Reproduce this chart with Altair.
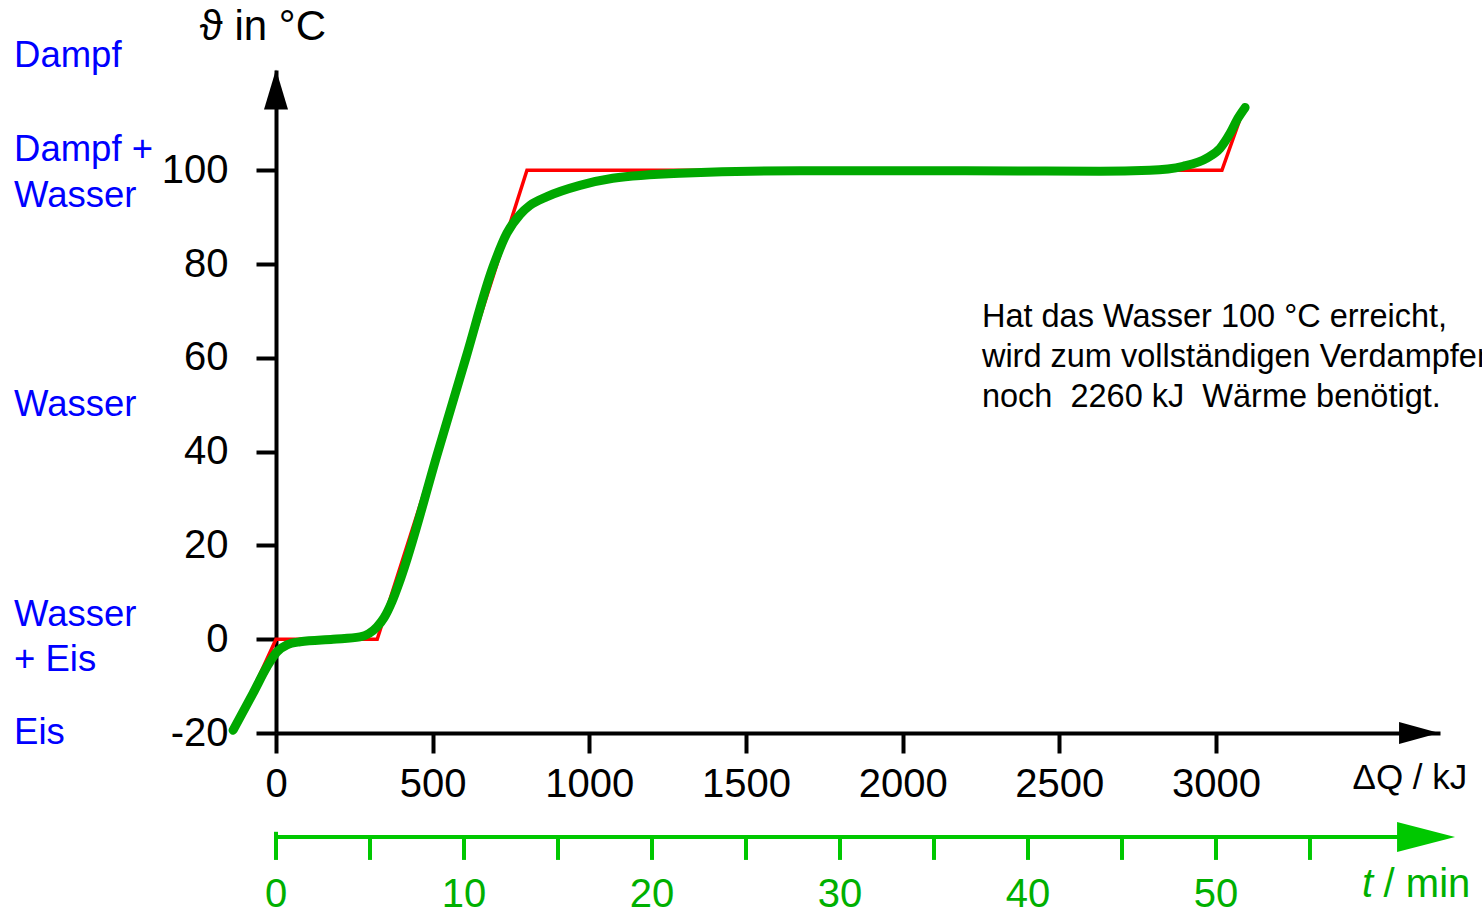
import altair as alt
import pandas as pd

# ---------------- data ----------------
# idealised heating curve (red)
red_q = [-137, 0, 323, 801, 3019, 3093]
red_t = [-20, 0, 0, 100, 100, 114]

# real heating curve (green)
green_q = [-137, -73, -29, 3, 35, 77, 182, 268, 322, 345, 370, 396, 517, 606, 692, 737,
           779, 810, 865, 970, 1075, 1289, 1672, 2200, 2630, 2789, 2895, 2971, 3013,
           3045, 3070, 3093]
green_t = [-19.4, -11.5, -5.9, -2.7, -1.2, -0.55, 0.0, 0.5, 2.6, 4.6, 8.0, 12.6, 40, 60,
           79.3, 86.6, 90.6, 92.5, 94.4, 96.8, 98.3, 99.4, 99.9, 99.9, 99.8, 100, 100.85,
           102.6, 104.7, 107.9, 111.1, 113.4]

q_ticks = [0, 500, 1000, 1500, 2000, 2500, 3000]
t_ticks = [-20, 0, 20, 40, 60, 80, 100]

time_ticks = [0, 5, 10, 15, 20, 25, 30, 35, 40, 45, 50, 55]
time_labels = [0, 10, 20, 30, 40, 50]
KJ_PER_MIN = 60

phase_text = ["Dampf", "Dampf +", "Wasser", "Wasser", "Wasser", "+ Eis", "Eis"]
phase_temp = [124.3, 104.3, 94.5, 49.9, 5.2, -4.4, -20]

note_lines = ["Hat das Wasser 100 °C erreicht,",
              "wird zum vollständigen Verdampfen",
              "noch\u00a0 2260 kJ\u00a0 Wärme benötigt."]
note_temp = [68.7, 60.1, 51.6]

# ---------------- scales & axes ----------------
Q_MAX = 3715
T_MIN, T_MAX = -20, 121.4
xs = alt.Scale(domain=[0, Q_MAX], nice=False, zero=False)
ys = alt.Scale(domain=[T_MIN, T_MAX], nice=False, zero=False)
FONT = "Liberation Sans"
GREEN_CURVE = "#00A800"
GREEN_AXIS = "#00C800"
GREEN_TEXT = "#00B000"

x_axis = alt.Axis(
    values=q_ticks, labelExpr="'' + datum.value", title=None, grid=False, tickSize=20,
    tickWidth=4, domainWidth=4, domainColor="black", tickColor="black", labelFontSize=40,
    labelFont=FONT, labelColor="black", labelPadding=11, labelFlush=False,
    labelOverlap=False)
y_axis = alt.Axis(
    values=t_ticks, labelExpr="'' + datum.value", title=None, grid=False, tickSize=20,
    tickWidth=4, domainWidth=4, domainColor="black", tickColor="black", labelFontSize=40,
    labelFont=FONT, labelColor="black", labelPadding=28, labelFlush=False,
    labelOverlap=False)


def X(field):
    return alt.X(field, type="quantitative", scale=xs, axis=x_axis)


def Y(field):
    return alt.Y(field, type="quantitative", scale=ys, axis=y_axis)


red_df = pd.DataFrame({"q": red_q, "t": red_t})
green_df = pd.DataFrame({"q": green_q, "t": green_t})

red = alt.Chart(red_df).mark_line(color="#FF0000", strokeWidth=3.5).encode(
    x=X("q"), y=Y("t"), order="q:Q")

green = alt.Chart(green_df).mark_line(
    color=GREEN_CURVE, strokeWidth=9, interpolate="monotone", strokeCap="round"
).encode(x=X("q"), y=Y("t"), order="q:Q")

# arrow heads of the axes
right_arrow = alt.Chart(pd.DataFrame({"q": [Q_MAX - 3], "t": [-20]})).mark_point(
    shape="M-2,-0.55L0,0L-2,0.55Z", size=1600, filled=True, color="black", opacity=1,
    strokeWidth=0).encode(x=X("q"), y=Y("t"))
up_arrow = alt.Chart(pd.DataFrame({"q": [0], "t": [121.5]})).mark_point(
    shape="M0,0L-0.6,2L0.6,2Z", size=1600, filled=True, color="black", opacity=1,
    strokeWidth=0).encode(x=X("q"), y=Y("t"))
green_arrow = alt.Chart(pd.DataFrame({"q": [3763], "t": [-42.17]})).mark_point(
    shape="M-2.9,-0.75L0,0L-2.9,0.75Z", size=1600, filled=True, color=GREEN_AXIS, opacity=1,
    strokeWidth=0).encode(x=X("q"), y=Y("t"))

# time axis
T_AXIS = -42.17
time_line = alt.Chart(pd.DataFrame({"q": [0], "q2": [3700], "t": [T_AXIS]})).mark_rule(
    color=GREEN_AXIS, strokeWidth=4).encode(x=X("q"), x2="q2:Q", y=Y("t"))

tick_df = pd.DataFrame({
    "q": [KJ_PER_MIN * m for m in time_ticks],
    "top": [T_AXIS + (1.1 if m == 0 else 0) for m in time_ticks],
    "bot": [T_AXIS - 4.9 for m in time_ticks],
})
time_tick_marks = alt.Chart(tick_df).mark_rule(color=GREEN_AXIS, strokeWidth=4).encode(
    x=X("q"), y=Y("top"), y2="bot:Q")

tl_df = pd.DataFrame({"q": [KJ_PER_MIN * m for m in time_labels],
                      "txt": [str(m) for m in time_labels],
                      "t": [-54.5] * len(time_labels)})
time_label_marks = alt.Chart(tl_df).mark_text(
    font=FONT, fontSize=40, color=GREEN_TEXT, align="center", baseline="middle").encode(
    x=X("q"), y=Y("t"), text="txt:N")

t_title_t = alt.Chart(pd.DataFrame({"q": [3466], "t": [-52.4], "txt": ["t"]})).mark_text(
    font=FONT, fontSize=40, color=GREEN_TEXT, align="left", baseline="middle",
    fontStyle="italic").encode(x=X("q"), y=Y("t"), text="txt:N")
t_title_rest = alt.Chart(pd.DataFrame({"q": [3535], "t": [-52.4], "txt": ["/ min"]})).mark_text(
    font=FONT, fontSize=40, color=GREEN_TEXT, align="left", baseline="middle").encode(
    x=X("q"), y=Y("t"), text="txt:N")

q_title = alt.Chart(pd.DataFrame({"q": [3619], "t": [-29.6], "txt": ["ΔQ / kJ"]})).mark_text(
    font=FONT, fontSize=35, color="black", align="center", baseline="middle").encode(
    x=X("q"), y=Y("t"), text="txt:N")

y_title = alt.Chart(pd.DataFrame({"q": [-243], "t": [130.5], "txt": ["ϑ in °C"]})).mark_text(
    font=FONT, fontSize=42, color="black", align="left", baseline="middle").encode(
    x=X("q"), y=Y("t"), text="txt:N")

phase_df = pd.DataFrame({"txt": phase_text, "t": phase_temp, "q": [-836] * len(phase_text)})
phases = alt.Chart(phase_df).mark_text(
    font=FONT, fontSize=36.5, color="#0000FF", align="left", baseline="middle").encode(
    x=X("q"), y=Y("t"), text="txt:N")

note_df = pd.DataFrame({"txt": note_lines, "t": note_temp, "q": [2253] * len(note_lines)})
note = alt.Chart(note_df).mark_text(
    font=FONT, fontSize=32.5, color="black", align="left", baseline="middle").encode(
    x=X("q"), y=Y("t"), text="txt:N")

chart = alt.layer(
    red, green, right_arrow, up_arrow, time_line, time_tick_marks, green_arrow,
    time_label_marks, t_title_t, t_title_rest, q_title, y_title, phases, note
).properties(
    width=1164, height=663,
    padding={"left": 276, "top": 70, "right": 42, "bottom": 185},
    autosize=alt.AutoSizeParams(type="none"),
    background="white",
).configure_view(stroke=None)

chart.save("out.html", embed_options={"renderer": "svg", "actions": False})
